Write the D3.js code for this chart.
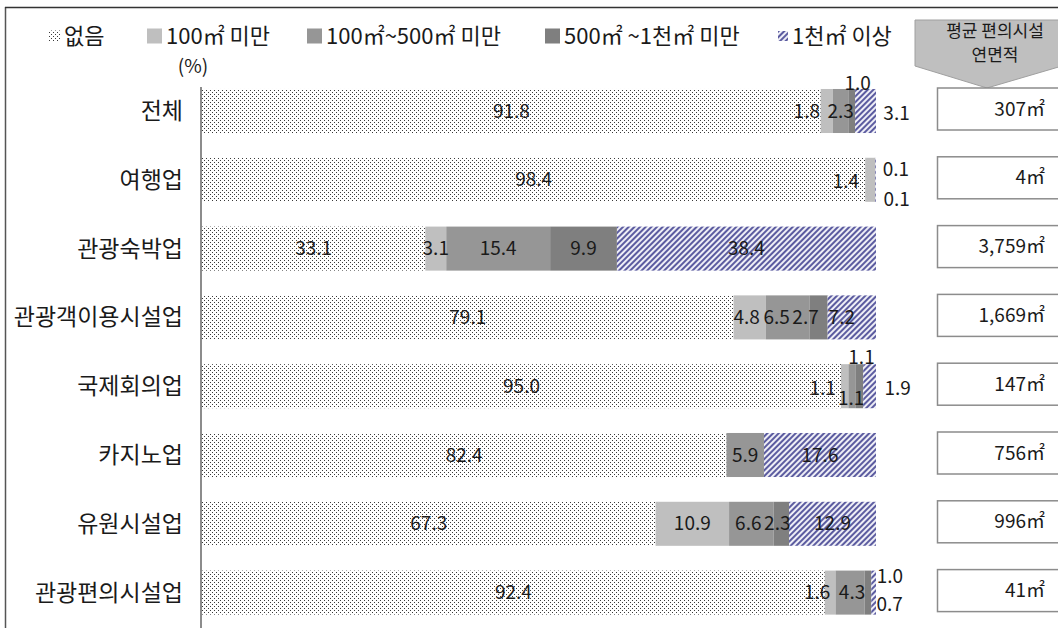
<!DOCTYPE html>
<html>
<head>
<meta charset="utf-8">
<script src="https://cdn.jsdelivr.net/npm/d3@7"></script>
<style>
  body { margin: 0; background: #fff; }
  text { font-family: "Noto Sans CJK KR", "Noto Sans", sans-serif; fill: #1a1a1a; }
</style>
</head>
<body>
<div id="chart"></div>
<script>
// data
var categories = ["전체", "여행업", "관광숙박업", "관광객이용시설업", "국제회의업", "카지노업", "유원시설업", "관광편의시설업"];
var seriesNames = ["없음", "100㎡ 미만", "100㎡~500㎡ 미만", "500㎡ ~1천㎡ 미만", "1천㎡ 이상"];
var none          = [91.8, 98.4, 33.1, 79.1, 95.0, 82.4, 67.3, 92.4];
var under100      = [1.8, 1.4, 3.1, 4.8, 1.1, 0, 10.9, 1.6];
var from100to500  = [2.3, 0.1, 15.4, 6.5, 1.1, 5.9, 6.6, 4.3];
var from500to1000 = [1.0, 0, 9.9, 2.7, 1.1, 0, 2.3, 1.0];
var over1000      = [3.1, 0.1, 38.4, 7.2, 1.9, 17.6, 12.9, 0.7];
var avgArea = ["307㎡", "4㎡", "3,759㎡", "1,669㎡", "147㎡", "756㎡", "996㎡", "41㎡"];

var width = 1058, height = 628;

var svg = d3.select("#chart")
  .append("svg")
    .attr("width", width)
    .attr("height", height);

// patterns
var defs = svg.append("defs");
var dots = defs.append("pattern")
    .attr("id", "dots")
    .attr("patternUnits", "userSpaceOnUse")
    .attr("width", 4).attr("height", 4);
dots.append("rect").attr("width", 4).attr("height", 4).attr("fill", "#fff");
dots.append("rect").attr("x", 0).attr("y", 0).attr("width", 1).attr("height", 1).attr("fill", "#3a3a3a");
dots.append("rect").attr("x", 2).attr("y", 2).attr("width", 1).attr("height", 1).attr("fill", "#3a3a3a");

var hatch = defs.append("pattern")
    .attr("id", "hatch")
    .attr("patternUnits", "userSpaceOnUse")
    .attr("width", 4).attr("height", 4)
    .attr("patternTransform", "rotate(45)");
hatch.append("rect").attr("width", 4).attr("height", 4).attr("fill", "#eeeef6");
hatch.append("rect").attr("width", 2).attr("height", 4).attr("fill", "#5c5ca0");

var fills = ["url(#dots)", "#bfbfbf", "#969696", "#7f7f7f", "url(#hatch)"];

// outer frame
svg.append("line").attr("x1", 5.5).attr("y1", 7).attr("x2", 5.5).attr("y2", height)
  .attr("stroke", "#555").attr("stroke-width", 1.5);
svg.append("line").attr("x1", 5).attr("y1", 7.5).attr("x2", width).attr("y2", 7.5)
  .attr("stroke", "#333").attr("stroke-width", 1.5);

// build table and stack (100% stacked)
var keys = ["s0", "s1", "s2", "s3", "s4"];
var table = categories.map(function(c, i) {
  return { cat: c, s0: none[i], s1: under100[i], s2: from100to500[i], s3: from500to1000[i], s4: over1000[i] };
});
var stacked = d3.stack().keys(keys).offset(d3.stackOffsetExpand)(table);

var x = d3.scaleLinear().domain([0, 1]).range([202, 876]);
var y = d3.scaleBand().domain(categories).range([76.6, 627]).paddingInner(0.36).paddingOuter(0.18);

// bars
svg.append("g")
  .selectAll("g")
  .data(stacked)
  .enter()
  .append("g")
    .attr("fill", function(d, i) { return fills[i]; })
  .selectAll("rect")
  .data(function(d) { return d; })
  .enter()
  .append("rect")
    .attr("x", function(d) { return x(d[0]); })
    .attr("y", function(d) { return y(d.data.cat); })
    .attr("width", function(d) { return x(d[1]) - x(d[0]); })
    .attr("height", y.bandwidth());

// axis line
svg.append("line").attr("x1", 201).attr("y1", 87).attr("x2", 201).attr("y2", height)
  .attr("stroke", "#8c8c8c").attr("stroke-width", 2);

// category labels
svg.append("g")
  .selectAll("text")
  .data(categories)
  .enter()
  .append("text")
    .attr("x", 183)
    .attr("y", function(d) { return y(d) + y.bandwidth() / 2; })
    .attr("dy", "0.35em")
    .attr("text-anchor", "end")
    .style("font-size", "23px")
    .text(function(d) { return d; });

// label nudges for the crowded small segments, "row-series": [dx, dy]
var nudge = {
  "0-1": [-20, 0], "0-3": [6, -28], "0-4": [31, 2],
  "1-1": [-24, 2], "1-2": [21, -10], "1-4": [21, 20],
  "3-1": [-3, 0], "3-2": [-11, 0], "3-3": [-13, 0], "3-4": [-10, 0],
  "4-1": [-22, 2], "4-2": [-1, 12], "4-3": [2, -29], "4-4": [28, 2],
  "6-2": [-3, 0], "6-3": [-4, 0],
  "7-1": [-13, 0], "7-2": [2, 0], "7-3": [22, -16], "7-4": [16, 12]
};

var labels = [];
stacked.forEach(function(s, si) {
  s.forEach(function(d, ri) {
    var v = d.data[keys[si]];
    if (v > 0) labels.push({ d: d, v: v, key: ri + "-" + si });
  });
});

svg.append("g")
  .selectAll("text")
  .data(labels)
  .enter()
  .append("text")
    .attr("x", function(l) { return (x(l.d[0]) + x(l.d[1])) / 2 + (nudge[l.key] ? nudge[l.key][0] : 0); })
    .attr("y", function(l) { return y(l.d.data.cat) + y.bandwidth() / 2 + (nudge[l.key] ? nudge[l.key][1] : 0); })
    .attr("dy", "0.35em")
    .attr("text-anchor", "middle")
    .style("font-size", "19px")
    .text(function(l) { return d3.format(".1f")(l.v); });

// legend
var legendX = [49, 147, 307, 545, 778];
var legendSize = [11, 15, 15, 15, 10];
var legend = svg.append("g")
  .selectAll("g")
  .data(seriesNames)
  .enter()
  .append("g")
    .attr("transform", function(d, i) { return "translate(" + legendX[i] + ",36)"; });
legend.append("rect")
  .attr("x", 0)
  .attr("y", function(d, i) { return -legendSize[i] / 2; })
  .attr("width", function(d, i) { return legendSize[i]; })
  .attr("height", function(d, i) { return legendSize[i]; })
  .attr("fill", function(d, i) { return fills[i]; });
legend.append("text")
  .attr("x", function(d, i) { return legendSize[i] + 4; })
  .attr("dy", "0.35em")
  .style("font-size", "22px")
  .text(function(d) { return d; });

svg.append("text")
  .attr("x", 193).attr("y", 66).attr("dy", "0.35em")
  .attr("text-anchor", "middle")
  .style("font-size", "19px")
  .text("(%)");

// header arrow box on the right
svg.append("polygon")
  .attr("points", "915,20 1062,20 1062,66 987,88 915,66")
  .attr("fill", "#bfbfbf")
  .attr("stroke", "#a0a0a0");
svg.append("text").attr("x", 995).attr("y", 31).attr("dy", "0.35em")
  .attr("text-anchor", "middle").style("font-size", "17px").text("평균 편의시설");
svg.append("text").attr("x", 995).attr("y", 55).attr("dy", "0.35em")
  .attr("text-anchor", "middle").style("font-size", "17px").text("연면적");

// average area boxes
var boxes = svg.append("g")
  .selectAll("g")
  .data(categories)
  .enter()
  .append("g")
    .attr("transform", function(d) { return "translate(0," + (y(d) + y.bandwidth() / 2 - 2) + ")"; });
boxes.append("rect")
  .attr("x", 937.5).attr("y", -21).attr("width", 140).attr("height", 42)
  .attr("fill", "#fff").attr("stroke", "#8c8c8c").attr("stroke-width", 1.5);
boxes.append("text")
  .attr("x", 1045).attr("dy", "0.35em")
  .attr("text-anchor", "end")
  .style("font-size", "19px")
  .text(function(d, i) { return avgArea[i]; });
</script>
</body>
</html>
